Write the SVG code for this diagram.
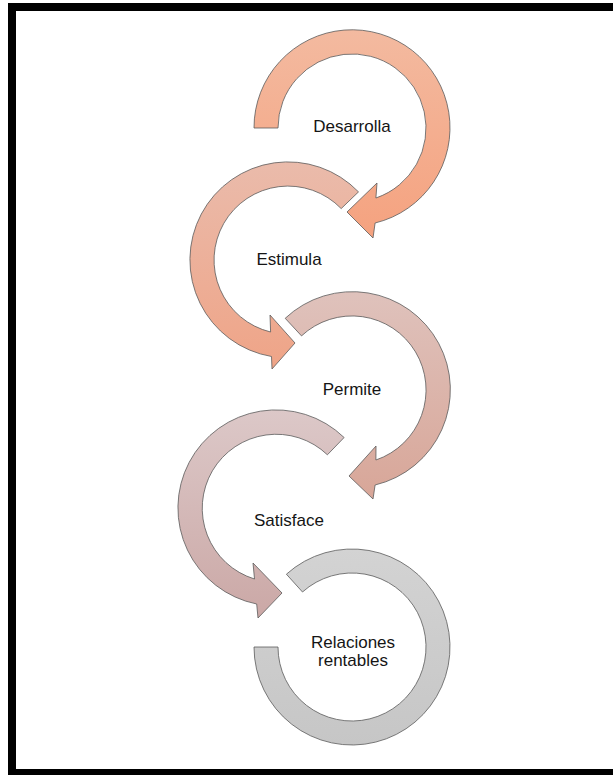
<svg xmlns="http://www.w3.org/2000/svg" width="613" height="775" viewBox="0 0 613 775">
<style>
.arr{stroke:#5a5a5a;stroke-width:0.8;stroke-linejoin:miter}
.lbl{font-family:"Liberation Sans",Arial,sans-serif;font-size:17px;fill:#151515;text-anchor:middle}
</style>
<defs>
<linearGradient id="g1" x1="0" y1="0" x2="0" y2="1"><stop offset="0" stop-color="#F3BAA0"/><stop offset="1" stop-color="#F5A27F"/></linearGradient>
<linearGradient id="g2" x1="0" y1="0" x2="0" y2="1"><stop offset="0" stop-color="#EABBAB"/><stop offset="1" stop-color="#EFA487"/></linearGradient>
<linearGradient id="g3" x1="0" y1="0" x2="0" y2="1"><stop offset="0" stop-color="#DFC2BC"/><stop offset="1" stop-color="#D8A698"/></linearGradient>
<linearGradient id="g4" x1="0" y1="0" x2="0" y2="1"><stop offset="0" stop-color="#DCC8C8"/><stop offset="1" stop-color="#CBA8A6"/></linearGradient>
<linearGradient id="g5" x1="0" y1="0" x2="0" y2="1"><stop offset="0" stop-color="#D3D3D3"/><stop offset="1" stop-color="#C6C6C6"/></linearGradient>
</defs>
<rect x="0" y="0" width="613" height="775" fill="#ffffff"/>
<rect x="12" y="7" width="660" height="766" fill="none" stroke="#000" stroke-width="8"/>
<g id="connectors"></g>
<g id="n1">
<path class="arr" fill="url(#g1)" d="M 254 128 A 98 98 0 1 1 375.1 223 L 373 238 L 347 212 L 377 183 L 375.9 198 A 74 74 0 1 0 278 128 Z"/>
<text class="lbl" x="352" y="132">Desarrolla</text>
</g>
<g id="n2">
<path class="arr" fill="url(#g2)" d="M 358.5 191.9 A 98 98 0 1 0 271.5 356.5 L 272 369 L 295 343 L 270 315 L 270.6 332 A 74 74 0 1 1 341.2 208.6 Z"/>
<text class="lbl" x="289" y="265">Estimula</text>
</g>
<g id="n3">
<path class="arr" fill="url(#g3)" d="M 285.2 318.3 A 98 98 0 1 1 375.1 485 L 373 499 L 349 476 L 376 446 L 375.9 460 A 74 74 0 1 0 301.5 335.9 Z"/>
<text class="lbl" x="352" y="395">Permite</text>
</g>
<g id="n4">
<path class="arr" fill="url(#g4)" d="M 344.1 437.5 A 98 98 0 1 0 256.7 604 L 258 618 L 282 593 L 253 563 L 254.5 579 A 74 74 0 1 1 327.4 454.8 Z"/>
<text class="lbl" x="289" y="526">Satisface</text>
</g>
<g id="n5">
<path class="arr" fill="url(#g5)" d="M 254 647 A 98 98 0 1 0 286.4 574.2 L 302.5 592 A 74 74 0 1 1 278 647 Z"/>
<text class="lbl" x="353" y="648">Relaciones</text>
<text class="lbl" x="353" y="666">rentables</text>
</g>
</svg>
